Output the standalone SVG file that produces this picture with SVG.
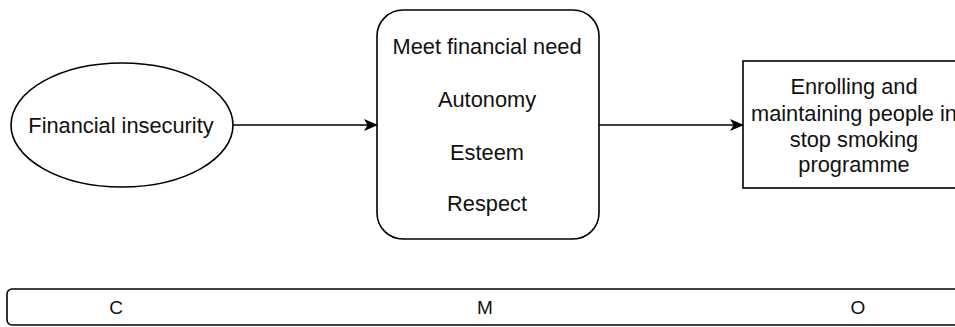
<svg xmlns="http://www.w3.org/2000/svg" width="955" height="327" viewBox="0 0 955 327">
  <defs>
    <marker id="arrow" viewBox="0 0 14 12" refX="13" refY="6" markerWidth="14" markerHeight="12" markerUnits="userSpaceOnUse" orient="auto">
      <path d="M0,0 L14,6 L0,12 L3.5,6 Z" fill="#000"/>
    </marker>
  </defs>
  <style>
    .shape { fill: #fff; stroke: #000; stroke-width: 1.6; }
    .label { font-family: "Liberation Sans", Arial, sans-serif; font-size: 21.8px; fill: #111; text-anchor: middle; dominant-baseline: central; }
    .bar { font-size: 19px; }
    .edge { stroke: #000; stroke-width: 1.3; fill: none; marker-end: url(#arrow); }
  </style>
  <rect width="955" height="327" fill="#fff"/>

  <g id="context">
    <ellipse class="shape" cx="122" cy="125" rx="111" ry="62"/>
    <text class="label" x="121" y="125">Financial insecurity</text>
  </g>

  <g id="mechanism">
    <rect class="shape" x="377" y="10" width="222" height="229" rx="26" ry="26"/>
    <text class="label" x="487" y="46">Meet financial need</text>
    <text class="label" x="487" y="99">Autonomy</text>
    <text class="label" x="487" y="152">Esteem</text>
    <text class="label" x="487" y="203">Respect</text>
  </g>

  <g id="outcome">
    <rect class="shape" x="743" y="61" width="222" height="127"/>
    <text class="label" x="854" y="86">Enrolling and</text>
    <text class="label" x="854" y="113">maintaining people in</text>
    <text class="label" x="854" y="139">stop smoking</text>
    <text class="label" x="854" y="164">programme</text>
  </g>

  <g id="cmo-bar">
    <rect class="shape" x="7" y="289" width="960" height="36" rx="5" ry="5"/>
    <text class="label bar" x="116" y="307">C</text>
    <text class="label bar" x="485" y="307">M</text>
    <text class="label bar" x="858" y="307">O</text>
  </g>

  <g id="connectors">
    <line class="edge" x1="233" y1="125" x2="377" y2="125"/>
    <line class="edge" x1="599" y1="125" x2="743" y2="125"/>
  </g>
</svg>
